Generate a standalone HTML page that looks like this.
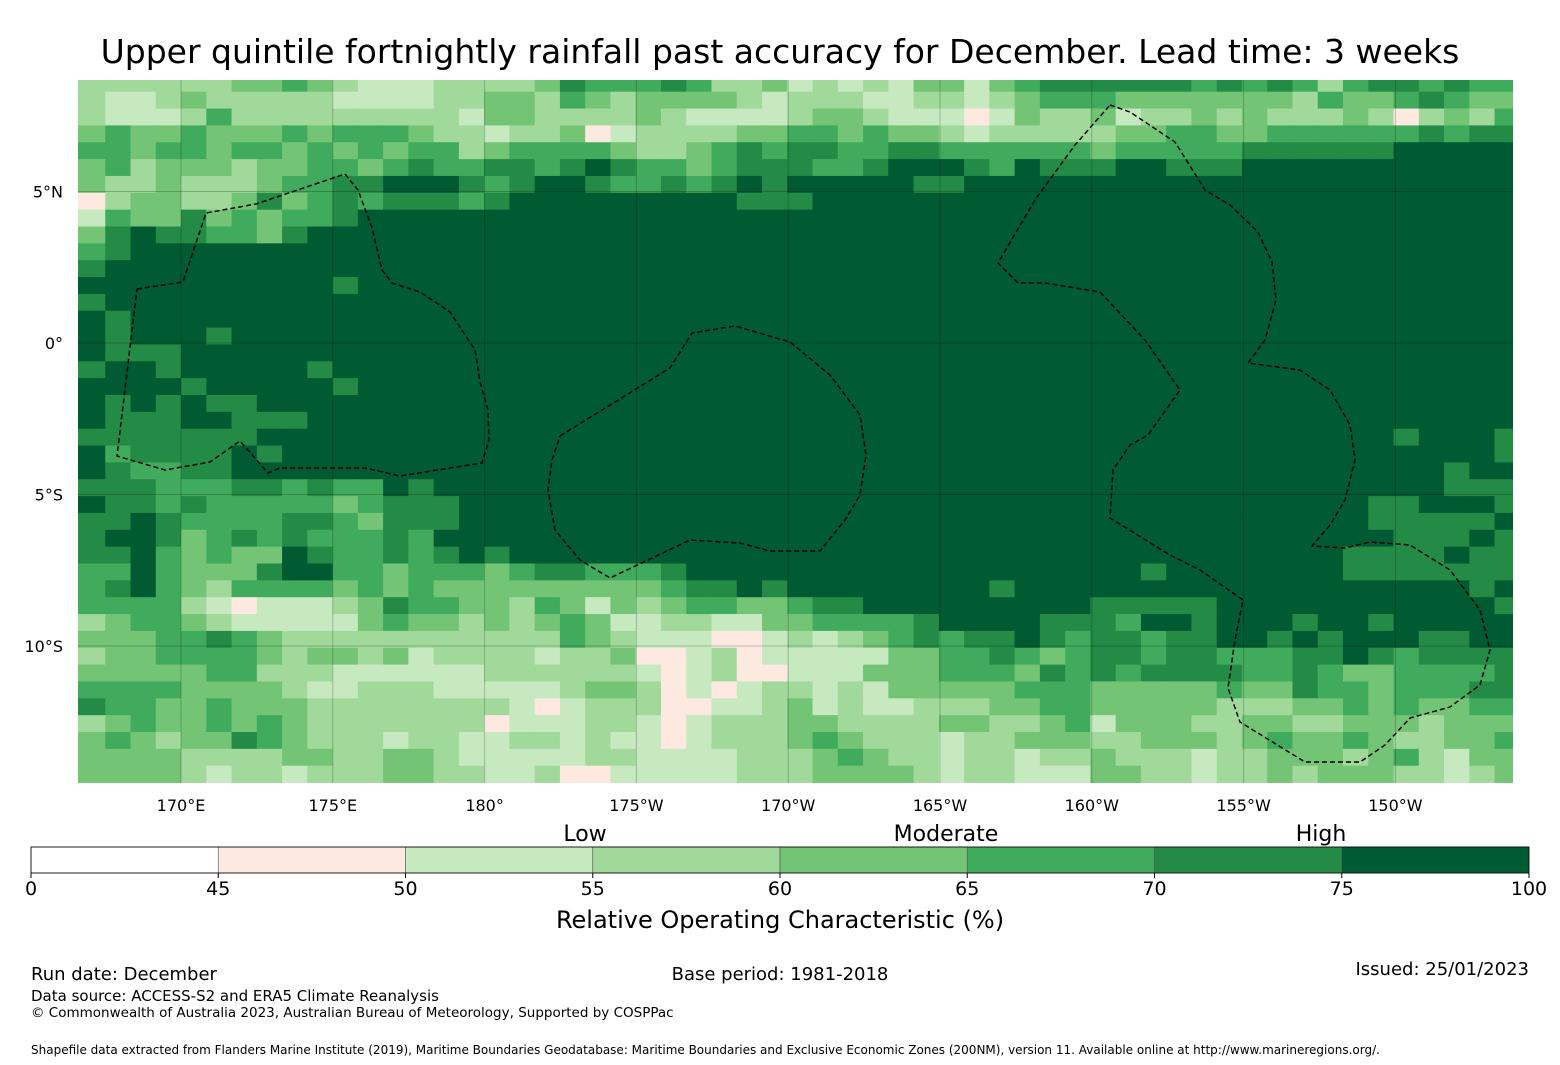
<!DOCTYPE html>
<html><head><meta charset="utf-8">
<style>
html,body{margin:0;padding:0;background:#fff;}
svg{display:block;font-family:"DejaVu Sans","Liberation Sans",sans-serif;}
</style></head>
<body>
<svg id="chart" width="1560" height="1065" viewBox="0 0 1560 1065" xmlns="http://www.w3.org/2000/svg">
<rect width="1560" height="1065" fill="#fff"/>
<text x="780" y="63" text-anchor="middle" font-size="33" fill="#000">Upper quintile fortnightly rainfall past accuracy for December. Lead time: 3 weeks</text>
<defs><clipPath id="mapclip"><rect x="78" y="80" width="1435" height="703"/></clipPath></defs>
<g id="map" clip-path="url(#mapclip)"></g>
<g id="grid"></g>
<g id="eez" fill="none" stroke="#000" stroke-width="1.5" stroke-dasharray="5,3"></g>
<g id="axes"></g>
<g id="cbar"></g>
<text x="585" y="841" text-anchor="middle" font-size="22">Low</text>
<text x="946" y="841" text-anchor="middle" font-size="22">Moderate</text>
<text x="1321" y="841" text-anchor="middle" font-size="22">High</text>
<text x="780" y="928" text-anchor="middle" font-size="24">Relative Operating Characteristic (%)</text>
<text x="31" y="980" font-size="18">Run date: December</text>
<text x="780" y="980" text-anchor="middle" font-size="18">Base period: 1981-2018</text>
<text x="1529" y="975" text-anchor="end" font-size="18">Issued: 25/01/2023</text>
<text x="31" y="1001" font-size="15">Data source: ACCESS-S2 and ERA5 Climate Reanalysis</text>
<text x="31" y="1017" font-size="13.5">© Commonwealth of Australia 2023, Australian Bureau of Meteorology, Supported by COSPPac</text>
<text x="31" y="1054" font-size="12">Shapefile data extracted from Flanders Marine Institute (2019), Maritime Boundaries Geodatabase: Maritime Boundaries and Exclusive Economic Zones (200NM), version 11. Available online at http://www.marineregions.org/.</text>
</svg>
<script>
const S7="777777777777777", T7="777777777777";
const rowCodes=[
"333333445432223"+"333465556533423"+"232442456666665"+"656535665655",
"322343333322223"+"344354344443233"+"322332345554444"+"444354456544",
"322235333333333"+"244333343222234"+"432221243342334"+"343334313435",
"454454445455543"+"323341233334455"+"454432333334455"+"445555556566",
"554554554545455"+"345555433456566"+"556655555545555"+"566666677777",
"453444344554565"+"566567655456665"+"567776576667766"+"677777777777",
"433433345566777"+"656776556567677"+"777667777777777"+T7,
"134433464565666"+"567777777776667"+S7+T7,
"254464545567777"+S7+S7+T7,
"467665546777777"+S7+S7+T7,
"567777777777777"+S7+S7+T7,
"677777777777777"+S7+S7+T7,
"777777777767777"+S7+S7+T7,
"677777777777777"+S7+S7+T7,
"767777777777777"+S7+S7+T7,
"767776777777777"+S7+S7+T7,
"766677777777777"+S7+S7+T7,
"677677777677777"+S7+S7+T7,
"777767777767777"+S7+S7+T7,
"767676677777777"+S7+S7+T7,
"766677666777777"+S7+S7+T7,
"666666677777777"+S7+S7+"777777767776",
"756666767777777"+S7+S7+"777777777776",
"765566777777777"+S7+S7+"777777777677",
"666555665655767"+S7+S7+"777777777666",
"766565555545666"+S7+S7+"777777667776",
"667655556654666"+S7+S7+"777777666667",
"677645656555657"+S7+S7+"777777766676",
"667545447655656"+"767777777777777"+S7+"777776666766",
"557544467755455"+"545665556777777"+"777777777777677"+"777776666666",
"567543555545454"+"444444445667677"+"777777677777777"+"777777777767",
"555532122234655"+"443542434554456"+"677777777766666"+"777777777776",
"345543222224544"+"343454223322445"+"555677776665776"+"777677677777",
"444556543333333"+"333354322211232"+"345656676566566"+"776767776677",
"344555543443423"+"333233411231222"+"224455654566566"+"555667656666",
"444445533322222"+"233333321231122"+"244455546565666"+"655654455556",
"555544443223332"+"222234431212332"+"324444455544444"+"544655455566",
"655445444333333"+"332123331122342"+"322333445544444"+"333445454455",
"345445454333333"+"312223321233344"+"333344334524443"+"344334443444",
"454344654333233"+"223323221233345"+"433323344433444"+"345445433445",
"444433334433443"+"222223322223334"+"543323323343332"+"334443453244",
"444432332333443"+"322311222223334"+"444323322244332"+"334344433234"
];
const binEdges=[0,45,50,55,60,65,70,75,100];
const binColors=["#ffffff","#fde9e0","#c7e9c0","#a1d99b","#74c476","#41ab5d","#238b45","#005a32"];
const lonTicks=["170°E","175°E","180°","175°W","170°W","165°W","160°W","155°W","150°W"];
const lonTickVals=[170,175,180,185,190,195,200,205,210];
const latTicks=["5°N","0°","5°S","10°S"];
const latTickVals=[5,0,-5,-10];

const NS="http://www.w3.org/2000/svg";
function mk(tag,attrs,parent){const e=document.createElementNS(NS,tag);for(const k in attrs)e.setAttribute(k,attrs[k]);parent.appendChild(e);return e;}
const xLon=lon=>181+(lon-170)*30.36;
const yLat=lat=>343-lat*30.3;
const cellW=25.26, cellH=16.85, col0=80, row1=91.7;
const map=document.getElementById('map');
rowCodes.forEach((row,r)=>{
  const y0 = r===0?80:row1+(r-1)*cellH;
  const y1 = row1+r*cellH;
  for(let c=0;c<row.length;c++){
    const x0 = c===0?78:col0+c*cellW;
    const x1 = col0+(c+1)*cellW;
    const rc=mk('rect',{x:x0.toFixed(2),y:y0.toFixed(2),width:(x1-x0+0.4).toFixed(2),height:(y1-y0+0.4).toFixed(2),fill:binColors[+row[c]]},map);
    
    
  }
});
const grid=document.getElementById('grid');
lonTickVals.forEach(v=>{const l=mk('line',{x1:xLon(v),x2:xLon(v),y1:80,y2:783,stroke:'rgba(0,0,0,0.22)','stroke-width':1},grid);
  
  });
latTickVals.forEach(v=>{const l=mk('line',{x1:78,x2:1513,y1:yLat(v),y2:yLat(v),stroke:'rgba(0,0,0,0.22)','stroke-width':1},grid);
  
  });
const axes=document.getElementById('axes');
lonTicks.forEach((t,i)=>{const e=mk('text',{x:xLon(lonTickVals[i]),y:811,'text-anchor':'middle','font-size':16},axes);e.textContent=t;
  
  });
latTicks.forEach((t,i)=>{const e=mk('text',{x:63,y:yLat(latTickVals[i])+6,'text-anchor':'end','font-size':16},axes);e.textContent=t;
  
  });
const eez=document.getElementById('eez');
const polys=[
"137,289 183,282 206,213 256,204 345,174 358,190 372,228 382,270 392,283 420,292 450,312 475,350 480,382 488,410 489,440 482,463 400,476 365,468 280,468 268,473 240,441 210,462 165,470 117,456 137,289",
"560,436 670,368 692,333 735,326 790,342 830,375 860,415 866,455 860,495 845,520 820,551 770,551 740,543 690,540 610,578 580,560 555,530 548,490 552,460 560,436",
"1110,105 1130,112 1160,132 1175,142 1205,190 1230,205 1258,232 1272,262 1276,300 1265,340 1248,363 1300,370 1330,390 1350,425 1355,460 1345,500 1330,525 1312,546 1345,548 1370,542 1410,545 1450,570 1480,610 1490,650 1480,685 1450,707 1410,718 1385,745 1360,762 1305,762 1240,722 1228,688 1235,640 1243,600 1200,570 1170,555 1110,518 1113,470 1130,445 1148,435 1180,390 1145,340 1100,292 1045,283 1018,283 998,263 1035,200 1075,145 1110,105"];
polys.forEach(p=>{const e=mk('polyline',{points:p},eez);
  
  });
const cb=document.getElementById('cbar');
const cbX=v=>31+(binEdges.indexOf(v))*187.25;
for(let i=0;i<binColors.length;i++){
  const e=mk('rect',{x:31+i*187.25,y:847,width:187.25,height:26,fill:binColors[i],stroke:'#555','stroke-width':0.6},cb);
  
  
}
mk('rect',{x:31,y:847,width:1498,height:26,fill:'none',stroke:'#000','stroke-width':0.8},cb);
binEdges.forEach(v=>{
  const x=cbX(v);
  mk('line',{x1:x,x2:x,y1:873,y2:878,stroke:'#000'},cb);
  const t=mk('text',{x:x,y:895,'text-anchor':'middle','font-size':19},cb);t.textContent=v;
  
  
});
</script>
</body></html>
